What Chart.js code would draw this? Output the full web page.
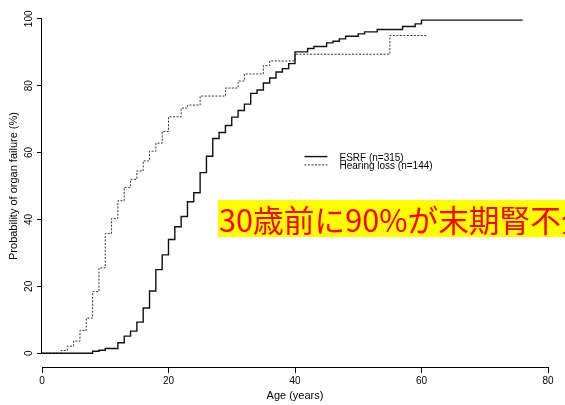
<!DOCTYPE html>
<html>
<head>
<meta charset="utf-8">
<script src="https://cdn.jsdelivr.net/npm/chart.js@4/dist/chart.umd.min.js"></script>
<style>
  html, body { margin: 0; padding: 0; background: #fff; overflow: hidden; }
  #wrap { position: relative; width: 565px; height: 405px; overflow: hidden; }
  #note {
    position: absolute; left: 218px; top: 200px; width: 400px; height: 37px;
    line-height: 37px; padding-left: 1px; background: #ffff00; color: #ff0000;
    font-family: "Noto Sans CJK JP"; font-size: 30.7px; white-space: nowrap;
  }
</style>
</head>
<body>
<div id="wrap">
  <canvas id="chart" width="565" height="405"></canvas>
  <div id="note">30歳前に90%が末期腎不全</div>
</div>
<script>
"use strict";

// Kaplan-Meier steps: age (years) -> cumulative probability of organ failure (%)
var esrfAges = [0, 8, 9, 10, 12, 13, 14, 15, 16, 17, 18, 19, 20, 21, 22, 23, 24, 25, 26, 27,
    28, 29, 30, 31, 32, 33, 34, 35, 36, 37, 38, 39, 40, 42, 43, 45, 46, 47, 48, 50, 51, 53, 57, 59, 60, 76];
var esrfProb = [0, 0.6, 0.9, 1.4, 3.1, 5.1, 6.6, 9.3, 13.5, 18.6, 25.0, 29.4, 34.0, 37.8, 40.9, 45.3, 48.0, 54.0, 58.9, 64.2,
    66.0, 68.1, 70.6, 72.6, 74.5, 77.7, 78.7, 80.8, 82.3, 84.1, 85.1, 86.6, 90.1, 91.1, 91.7, 92.8, 93.3, 94.0, 94.8, 95.5, 96.1, 96.8, 97.7, 98.5, 99.6, 99.6];

var hearingAges = [0, 3, 4, 5, 6, 7, 8, 9, 10, 11, 12, 13, 14, 15, 16, 17, 18, 19, 20, 22,
    23, 25, 29, 31, 32, 35, 36, 40, 55, 61];
var hearingProb = [0, 0.8, 2.1, 3.6, 6.8, 10.5, 18.4, 25.5, 35.8, 40.3, 45.6, 49.6, 52.0, 54.5, 57.5, 60.4, 62.8, 66.3, 70.7, 73.3,
    74.2, 76.9, 79.3, 81.4, 83.5, 86.0, 87.4, 89.4, 95.0, 95.0];

var seriesLabels = ['ESRF (n=315)', 'Hearing loss (n=144)'];
var xTicks = [0, 20, 40, 60, 80];
var yTicks = [0, 20, 40, 60, 80, 100];

function toPoints(ages, probs) {
    return ages.map(function (a, i) { return { x: a, y: probs[i] }; });
}

Chart.defaults.font.family = '"Liberation Sans", Arial, sans-serif';
Chart.defaults.color = '#000';

// R-style axes (line only from first to last tick) and an in-plot legend
var rStyle = {
    id: 'rStyle',
    afterDatasetsDraw: function (chart) {
        var ctx = chart.ctx, x = chart.scales.x, y = chart.scales.y;
        ctx.save();
        ctx.strokeStyle = '#000';
        ctx.lineWidth = 1;
        ctx.beginPath();
        var yb = Math.round(x.top) + 0.5;
        ctx.moveTo(x.getPixelForValue(xTicks[0]), yb);
        ctx.lineTo(x.getPixelForValue(xTicks[xTicks.length - 1]), yb);
        var xl = Math.round(y.right) - 0.5;
        ctx.moveTo(xl, y.getPixelForValue(yTicks[0]));
        ctx.lineTo(xl, y.getPixelForValue(yTicks[yTicks.length - 1]));
        ctx.stroke();

        var lx = x.getPixelForValue(41.5), ly = y.getPixelForValue(58.8);
        ctx.font = '10px "Liberation Sans", Arial, sans-serif';
        ctx.textBaseline = 'middle';
        ctx.fillStyle = '#000';
        chart.data.datasets.forEach(function (ds, i) {
            var yy = ly + i * 8.3;
            ctx.strokeStyle = ds.borderColor;
            ctx.lineWidth = ds.borderWidth;
            ctx.setLineDash(ds.borderDash || []);
            ctx.beginPath();
            ctx.moveTo(lx, yy);
            ctx.lineTo(lx + 23, yy);
            ctx.stroke();
            ctx.setLineDash([]);
            ctx.fillText(ds.label, lx + 35, yy + 1.5);
        });
        ctx.restore();
    }
};

var ctx = document.getElementById('chart').getContext('2d');

new Chart(ctx, {
    type: 'line',
    data: {
        datasets: [{
            label: seriesLabels[0],
            data: toPoints(esrfAges, esrfProb),
            stepped: 'before',
            borderColor: '#111',
            borderWidth: 1.4,
            pointRadius: 0,
            fill: false
        }, {
            label: seriesLabels[1],
            data: toPoints(hearingAges, hearingProb),
            stepped: 'before',
            borderColor: '#333',
            borderWidth: 1,
            borderDash: [2, 1.5],
            pointRadius: 0,
            fill: false
        }]
    },
    options: {
        responsive: false,
        animation: false,
        events: [],
        layout: { padding: { top: 0, right: 17, left: 0, bottom: 0 } },
        plugins: {
            legend: { display: false },
            tooltip: { enabled: false }
        },
        scales: {
            x: {
                type: 'linear',
                min: 0,
                max: 80,
                afterBuildTicks: function (scale) {
                    scale.ticks = xTicks.map(function (v) { return { value: v }; });
                },
                afterFit: function (scale) { scale.height = 38; },
                grid: { display: true, drawOnChartArea: false, tickLength: 6, color: '#000' },
                border: { display: false },
                ticks: { font: { size: 10 }, padding: 2, maxRotation: 0 },
                title: {
                    display: true,
                    text: 'Age (years)',
                    font: { size: 11 },
                    padding: { top: 0, bottom: 2 }
                }
            },
            y: {
                type: 'linear',
                min: -4.13,
                max: 104.13,
                afterBuildTicks: function (scale) {
                    scale.ticks = yTicks.map(function (v) { return { value: v }; });
                },
                afterFit: function (scale) { scale.width = 42; },
                grid: { display: true, drawOnChartArea: false, tickLength: 5, color: '#000' },
                border: { display: false },
                ticks: { font: { size: 10 }, minRotation: 90, maxRotation: 90, crossAlign: 'center', padding: -1 },
                title: {
                    display: true,
                    text: 'Probability of organ failure (%)',
                    font: { size: 11 },
                    padding: { top: 7, bottom: 0 }
                }
            }
        }
    },
    plugins: [rStyle]
});
</script>
</body>
</html>
